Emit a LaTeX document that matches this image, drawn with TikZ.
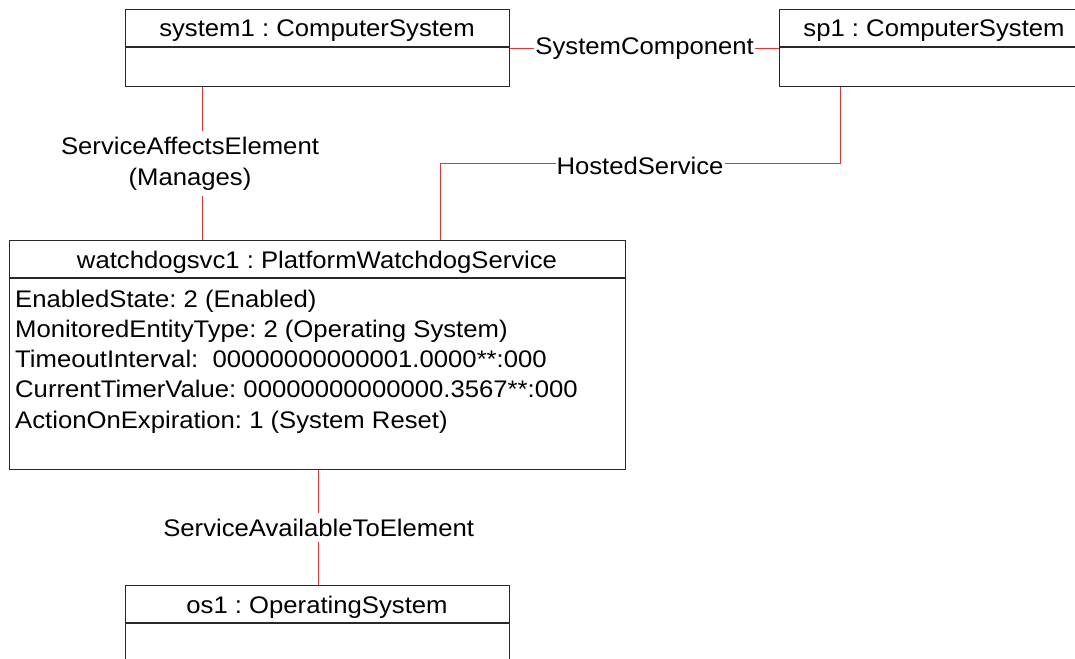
\documentclass[tikz,border=0pt]{standalone}
\usepackage{fontspec}
\setmainfont[FakeStretch=1.07]{Liberation Sans}
\usepackage{xcolor}
\usepackage{tikz}
\usetikzlibrary{positioning}

\definecolor{assocred}{RGB}{245,45,45}
\definecolor{boxline}{RGB}{40,40,40}

\begin{document}
\begin{tikzpicture}[
        x=1pt, y=-1pt,
        every node/.style={inner sep=0pt, font=\fontsize{24}{31}\selectfont\frenchspacing},
        classbox/.style={rectangle, draw=boxline, line width=1.3pt, anchor=north west},
        divider/.style={draw=boxline, line width=1.3pt},
        title/.style={anchor=base},
        attr/.style={anchor=base west},
        assoc/.style={draw=assocred, line width=1pt},
        assoclabel/.style={fill=white, inner xsep=1pt, inner ysep=6pt, align=center}
    ]
        \useasboundingbox (0,0) rectangle (1075,658);

        \node[classbox, minimum width=384, minimum height=77] (system1) at (125,9) {};
        \node[title] (system1-name) at (317,37) {system1 : ComputerSystem};
        \draw[divider] (system1.west |- 0,47) -- (system1.east |- 0,47);

        \node[classbox, minimum width=310, minimum height=77] (sp1) at (779,9) {};
        \node[title] (sp1-name) at (934,37) {sp1 : ComputerSystem};
        \draw[divider] (sp1.west |- 0,47) -- (sp1.east |- 0,47);

        \node[classbox, minimum width=616, minimum height=229] (watchdog) at (9,240) {};
        \node[title] (watchdog-name) at (317,268) {watchdogsvc1 : PlatformWatchdogService};
        \draw[divider] (watchdog.west |- 0,278) -- (watchdog.east |- 0,278);
        \node[attr] (enabled) at (15,307) {EnabledState: 2 (Enabled)};
        \node[attr] (monitored) at (15,337.25) {MonitoredEntityType: 2 (Operating System)};
        \node[attr] (timeout) at (15,367.5) {TimeoutInterval:\ \ 00000000000001.0000**:000};
        \node[attr] (timer) at (15,397.75) {CurrentTimerValue: 00000000000000.3567**:000};
        \node[attr] (action) at (15,428) {ActionOnExpiration: 1 (System Reset)};

        \node[classbox, minimum width=384, minimum height=77] (os1) at (125,585) {};
        \node[title] (os1-name) at (317,613) {os1 : OperatingSystem};
        \draw[divider] (os1.west |- 0,623) -- (os1.east |- 0,623);

        % associations
        \draw[assoc] (system1.east) -- node[assoclabel] {SystemComponent} (sp1.west);
        \draw[assoc] ([xshift=77pt]system1.south west) -- node[assoclabel, xshift=-12pt] {ServiceAffectsElement\\(Manages)} ([xshift=193pt]watchdog.north west);
        \draw[assoc] ([xshift=61pt]sp1.south west) -- ++(0,76) -| node[assoclabel, pos=0.25, yshift=-3pt] {HostedService} ([xshift=431pt]watchdog.north west);
        \draw[assoc] ([xshift=1pt]watchdog.south) -- node[assoclabel] {ServiceAvailableToElement} ([xshift=1pt]os1.north);
\end{tikzpicture}
\end{document}
